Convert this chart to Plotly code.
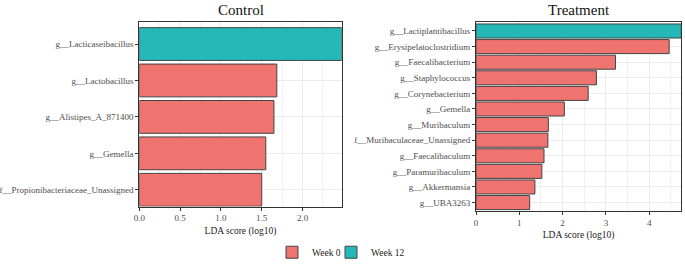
import plotly.graph_objects as go

# ---- data ----
control_taxa = ["f__Propionibacteriaceae_Unassigned", "g__Gemella", "g__Alistipes_A_871400",
                "g__Lactobacillus", "g__Lacticaseibacillus"]
control_lda = [1.50, 1.55, 1.65, 1.685, 2.48]
control_group = ["Week 0", "Week 0", "Week 0", "Week 0", "Week 12"]

treat_taxa = ["g__UBA3263", "g__Akkermansia", "g__Paramuribaculum", "g__Faecalibaculum",
              "f__Muribaculaceae_Unassigned", "g__Muribaculum", "g__Gemella",
              "g__Corynebacterium", "g__Staphylococcus", "g__Faecalibacterium",
              "g__Erysipelatoclostridium", "g__Lactiplantibacillus"]
treat_lda = [1.24, 1.36, 1.52, 1.57, 1.66, 1.67, 2.04, 2.59, 2.78, 3.22, 4.46, 4.74]
treat_group = ["Week 0"] * 11 + ["Week 12"]

groups = ["Week 0", "Week 12"]
colors = {"Week 0": "#EF7470", "Week 12": "#24B8B8"}
legend_of = {"Week 0": "legend", "Week 12": "legend2"}

W, H = 685, 267
FONT = "Liberation Serif"

fig = go.Figure()

shown = set()
for taxa, vals, grp, xa, ya in [(control_taxa, control_lda, control_group, "x", "y"),
                                (treat_taxa, treat_lda, treat_group, "x2", "y2")]:
    for g in groups:
        ys = [t for t, gg in zip(taxa, grp) if gg == g]
        xs = [v for v, gg in zip(vals, grp) if gg == g]
        fig.add_trace(go.Bar(
            x=xs, y=ys, orientation="h", name=g, width=0.9,
            marker=dict(color=colors[g], line=dict(color="#444444", width=1)),
            xaxis=xa, yaxis=ya, legendgroup=g, legend=legend_of[g],
            showlegend=(g not in shown),
        ))
        shown.add(g)

def px_x(p):
    return p / W

def px_y(p):
    return 1 - p / H

common_x = dict(showline=True, mirror=True, linecolor="#333333", linewidth=1,
                ticks="outside", ticklen=3, tickcolor="#333333", automargin=False,
                showgrid=True, gridcolor="#EBEBEB", gridwidth=1, zeroline=False,
                tickfont=dict(family=FONT, size=9, color="#4D4D4D"),
                title=dict(text="LDA score (log10)", font=dict(family=FONT, size=9.5, color="#222222"),
                           standoff=4))
common_y = dict(showline=True, mirror=True, linecolor="#333333", linewidth=1,
                ticks="outside", ticklen=3, tickcolor="#333333", automargin=False,
                showgrid=True, gridcolor="#EBEBEB", gridwidth=1, zeroline=False,
                type="category",
                tickfont=dict(family=FONT, size=9, color="#4D4D4D"))

legend_style = dict(orientation="h", xanchor="left", y=-0.022, yanchor="bottom",
                    font=dict(family=FONT, size=9.5, color="#222222"),
                    itemwidth=30, bgcolor="rgba(0,0,0,0)")

fig.update_layout(
    width=W, height=H, autosize=False,
    margin=dict(l=0, r=0, t=0, b=0),
    paper_bgcolor="white", plot_bgcolor="white",
    barmode="overlay",
    font=dict(family=FONT),
    xaxis=dict(**common_x, domain=[px_x(139.3), px_x(341.7)], anchor="y",
               range=[0, 2.48], dtick=0.5, tickformat=".1f",
               minor=dict(dtick=0.25, showgrid=True, gridcolor="#F2F2F2", gridwidth=0.5)),
    yaxis=dict(**common_y, domain=[px_y(211.3), px_y(22.3)], anchor="x",
               categoryorder="array", categoryarray=control_taxa,
               range=[-0.46, 4.61]),
    xaxis2=dict(**common_x, domain=[px_x(476.0), px_x(681.3)], anchor="y2",
                range=[0, 4.74], dtick=1,
                minor=dict(dtick=0.5, showgrid=True, gridcolor="#F2F2F2", gridwidth=0.5)),
    yaxis2=dict(**common_y, domain=[px_y(216.0), px_y(22.3)], anchor="x2",
                categoryorder="array", categoryarray=treat_taxa,
                range=[-0.55, 11.59]),
    legend=dict(**legend_style, x=px_x(272)),
    legend2=dict(**legend_style, x=px_x(331)),
    annotations=[
        dict(text="Control", x=(139.3 + 341.7) / 2 / W, y=px_y(10), xref="paper", yref="paper",
             showarrow=False, xanchor="center", yanchor="middle",
             font=dict(family=FONT, size=15, color="#111111")),
        dict(text="Treatment", x=(476.0 + 681.3) / 2 / W, y=px_y(10), xref="paper", yref="paper",
             showarrow=False, xanchor="center", yanchor="middle",
             font=dict(family=FONT, size=15, color="#111111")),
    ],
)

fig.write_html("out.html", config={"displayModeBar": False},
               post_script="document.body.style.margin='0';document.body.style.overflow='hidden';")
